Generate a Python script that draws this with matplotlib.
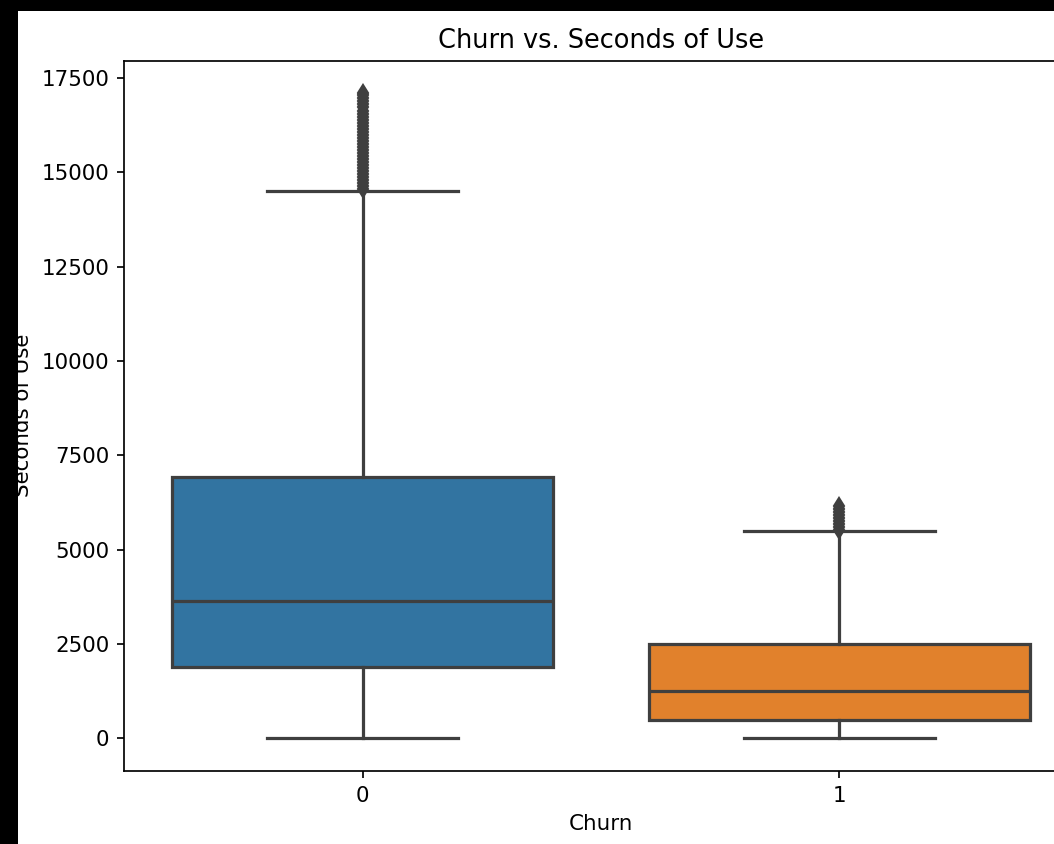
import matplotlib
matplotlib.use("Agg")
import matplotlib.pyplot as plt
from matplotlib.patches import Rectangle

# ---- data ----
categories = ["0", "1"]
whisker_low = [0, 0]
q1 = [1890, 500]
median = [3645, 1270]
q3 = [6940, 2515]
whisker_high = [14520, 5495]
fliers_0 = [14560, 14640, 14720, 14800, 14880, 14960, 15040, 15120, 15200,
            15280, 15360, 15440, 15520, 15600, 15680, 15760, 15840, 15920,
            16000, 16080, 16160, 16240, 16320, 16400, 16480, 16560, 16640,
            16720, 16800, 16880, 16960, 17040, 17100]
fliers_1 = [5520, 5600, 5680, 5760, 5840, 5920, 6000, 6080, 6150]
box_colors = ["#3274a1", "#e1812c"]

s = 1.54  # scale factor relative to matplotlib defaults at 100 dpi
line_gray = "#3f3f3f"

plt.rcParams.update({
    "font.family": "DejaVu Sans",
    "font.size": 10 * s,
    "axes.linewidth": 0.8 * s,
    "xtick.major.size": 3.5 * s,
    "ytick.major.size": 3.5 * s,
    "xtick.major.width": 0.8 * s,
    "ytick.major.width": 0.8 * s,
    "xtick.major.pad": 3.5 * s,
    "ytick.major.pad": 3.5 * s,
    "axes.titlesize": 12 * s,
    "axes.labelsize": 10 * s,
    "axes.titlepad": 6 * s,
    "axes.labelpad": 4 * s,
})

W, H = 1054, 844
fig = plt.figure(figsize=(W / 100, H / 100), dpi=100, facecolor="white")
ax_left, ax_right = 124.4, 1077.6
ax_top, ax_bottom = 60.7, 770.7
ax = fig.add_axes([ax_left / W, 1 - ax_bottom / H,
                   (ax_right - ax_left) / W, (ax_bottom - ax_top) / H])

stats = []
for i, lab in enumerate(categories):
    stats.append({
        "label": lab,
        "whislo": whisker_low[i],
        "q1": q1[i],
        "med": median[i],
        "q3": q3[i],
        "whishi": whisker_high[i],
        "fliers": [fliers_0, fliers_1][i],
    })

lw = 1.5 * s
bp = ax.bxp(stats, positions=[0, 1], widths=0.8, patch_artist=True,
            showfliers=True,
            boxprops=dict(edgecolor=line_gray, linewidth=lw),
            medianprops=dict(color=line_gray, linewidth=lw),
            whiskerprops=dict(color=line_gray, linewidth=lw),
            capprops=dict(color=line_gray, linewidth=lw),
            flierprops=dict(marker="d", markersize=5 * s * 1.08,
                            markerfacecolor=line_gray,
                            markeredgecolor=line_gray,
                            markeredgewidth=1.0 * s, linestyle="none"))
for patch, c in zip(bp["boxes"], box_colors):
    patch.set_facecolor(c)

ax.set_xlim(-0.5, 1.5)
ax.set_ylim(-855, 17960)
ax.set_xticks([0, 1])
ax.set_xticklabels(categories)
ax.set_yticks([0, 2500, 5000, 7500, 10000, 12500, 15000, 17500])
ax.set_title("Churn vs. Seconds of Use")
ax.set_xlabel("Churn")
ax.set_ylabel("Seconds of Use")

# screenshot black borders (left and top)
fig.add_artist(Rectangle((0, 0), 17.5 / W, 1, transform=fig.transFigure,
                         facecolor="black", edgecolor="none", zorder=20))
fig.add_artist(Rectangle((0, 1 - 10.7 / H), 1, 10.7 / H,
                         transform=fig.transFigure,
                         facecolor="black", edgecolor="none", zorder=20))

fig.savefig("out.png", dpi=100, facecolor="white")
